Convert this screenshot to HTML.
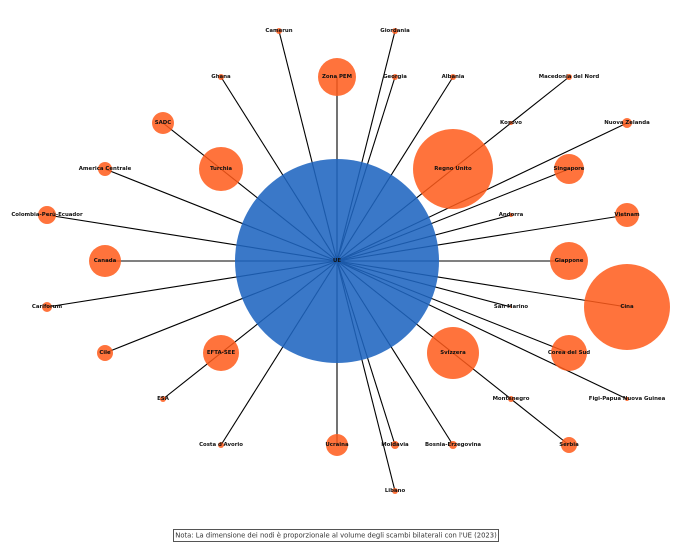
<!DOCTYPE html>
<html><head><meta charset="utf-8"><style>
html,body{margin:0;padding:0;background:#fff;}
svg{display:block}
text{font-family:"DejaVu Sans","Liberation Sans",sans-serif;font-weight:bold;font-size:5.4px;fill:#111;text-anchor:middle;dominant-baseline:central}
.n{fill:#ff5a1a;opacity:0.85}
line{stroke:#000;stroke-width:1.1}
</style></head><body>
<svg width="678" height="543" viewBox="0 0 678 543" xmlns="http://www.w3.org/2000/svg">
<g>
<line x1="337" y1="261" x2="279" y2="31"/>
<line x1="337" y1="261" x2="395" y2="31"/>
<line x1="337" y1="261" x2="221" y2="77"/>
<line x1="337" y1="261" x2="337" y2="77"/>
<line x1="337" y1="261" x2="395" y2="77"/>
<line x1="337" y1="261" x2="453" y2="77"/>
<line x1="337" y1="261" x2="569" y2="77"/>
<line x1="337" y1="261" x2="163" y2="123"/>
<line x1="337" y1="261" x2="627" y2="123"/>
<line x1="337" y1="261" x2="105" y2="169"/>
<line x1="337" y1="261" x2="569" y2="169"/>
<line x1="337" y1="261" x2="47" y2="215"/>
<line x1="337" y1="261" x2="511" y2="215"/>
<line x1="337" y1="261" x2="627" y2="215"/>
<line x1="337" y1="261" x2="105" y2="261"/>
<line x1="337" y1="261" x2="569" y2="261"/>
<line x1="337" y1="261" x2="47" y2="307"/>
<line x1="337" y1="261" x2="511" y2="307"/>
<line x1="337" y1="261" x2="627" y2="307"/>
<line x1="337" y1="261" x2="105" y2="353"/>
<line x1="337" y1="261" x2="569" y2="353"/>
<line x1="337" y1="261" x2="163" y2="399"/>
<line x1="337" y1="261" x2="627" y2="399"/>
<line x1="337" y1="261" x2="221" y2="445"/>
<line x1="337" y1="261" x2="337" y2="445"/>
<line x1="337" y1="261" x2="395" y2="445"/>
<line x1="337" y1="261" x2="453" y2="445"/>
<line x1="337" y1="261" x2="569" y2="445"/>
<line x1="337" y1="261" x2="395" y2="491"/>
</g>
<circle cx="337" cy="261" r="102" fill="#1f65c0" opacity="0.88"/>
<g>
<circle class="n" cx="279" cy="31" r="3"/>
<circle class="n" cx="395" cy="31" r="3"/>
<circle class="n" cx="221" cy="77" r="3"/>
<circle class="n" cx="337" cy="77" r="19"/>
<circle class="n" cx="395" cy="77" r="3"/>
<circle class="n" cx="453" cy="77" r="3"/>
<circle class="n" cx="569" cy="77" r="3"/>
<circle class="n" cx="163" cy="123" r="11"/>
<circle class="n" cx="511" cy="123" r="2"/>
<circle class="n" cx="627" cy="123" r="5"/>
<circle class="n" cx="105" cy="169" r="7"/>
<circle class="n" cx="221" cy="169" r="22"/>
<circle class="n" cx="453" cy="169" r="40"/>
<circle class="n" cx="569" cy="169" r="15"/>
<circle class="n" cx="47" cy="215" r="9"/>
<circle class="n" cx="511" cy="215" r="2"/>
<circle class="n" cx="627" cy="215" r="12"/>
<circle class="n" cx="105" cy="261" r="16"/>
<circle class="n" cx="569" cy="261" r="19"/>
<circle class="n" cx="47" cy="307" r="5"/>
<circle class="n" cx="511" cy="307" r="1"/>
<circle class="n" cx="627" cy="307" r="43"/>
<circle class="n" cx="105" cy="353" r="8"/>
<circle class="n" cx="221" cy="353" r="18"/>
<circle class="n" cx="453" cy="353" r="26"/>
<circle class="n" cx="569" cy="353" r="18"/>
<circle class="n" cx="163" cy="399" r="3"/>
<circle class="n" cx="511" cy="399" r="3"/>
<circle class="n" cx="627" cy="399" r="2"/>
<circle class="n" cx="221" cy="445" r="3"/>
<circle class="n" cx="337" cy="445" r="11"/>
<circle class="n" cx="395" cy="445" r="4"/>
<circle class="n" cx="453" cy="445" r="4"/>
<circle class="n" cx="569" cy="445" r="8"/>
<circle class="n" cx="395" cy="491" r="3"/>
</g>
<g>
<text x="337" y="261">UE</text>
<text x="279" y="31">Camerun</text>
<text x="395" y="31">Giordania</text>
<text x="221" y="77">Ghana</text>
<text x="337" y="77">Zona PEM</text>
<text x="395" y="77">Georgia</text>
<text x="453" y="77">Albania</text>
<text x="569" y="77">Macedonia del Nord</text>
<text x="163" y="123">SADC</text>
<text x="511" y="123">Kosovo</text>
<text x="627" y="123">Nuova Zelanda</text>
<text x="105" y="169">America Centrale</text>
<text x="221" y="169">Turchia</text>
<text x="453" y="169">Regno Unito</text>
<text x="569" y="169">Singapore</text>
<text x="47" y="215">Colombia-Perù-Ecuador</text>
<text x="511" y="215">Andorra</text>
<text x="627" y="215">Vietnam</text>
<text x="105" y="261">Canada</text>
<text x="569" y="261">Giappone</text>
<text x="47" y="307">Cariforum</text>
<text x="511" y="307">San Marino</text>
<text x="627" y="307">Cina</text>
<text x="105" y="353">Cile</text>
<text x="221" y="353">EFTA-SEE</text>
<text x="453" y="353">Svizzera</text>
<text x="569" y="353">Corea del Sud</text>
<text x="163" y="399">ESA</text>
<text x="511" y="399">Montenegro</text>
<text x="627" y="399">Figi-Papua Nuova Guinea</text>
<text x="221" y="445">Costa d'Avorio</text>
<text x="337" y="445">Ucraina</text>
<text x="395" y="445">Moldavia</text>
<text x="453" y="445">Bosnia-Erzegovina</text>
<text x="569" y="445">Serbia</text>
<text x="395" y="491">Libano</text>
</g>
<rect x="173.5" y="529.5" width="325" height="12" fill="#fff" stroke="#555" stroke-width="1"/>
<text x="336" y="535.5" style="font-weight:normal;font-size:6.8px;fill:#333">Nota: La dimensione dei nodi è proporzionale al volume degli scambi bilaterali con l'UE (2023)</text>
</svg>
</body></html>
